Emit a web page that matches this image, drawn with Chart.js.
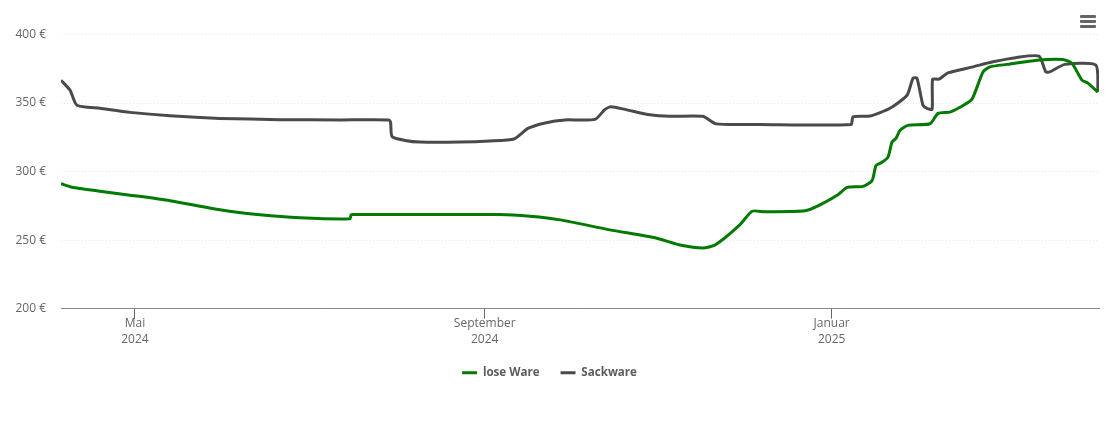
<!DOCTYPE html>
<html lang="de">
<head>
<meta charset="utf-8">
<title>Preisentwicklung</title>
<script src="https://cdn.jsdelivr.net/npm/chart.js@4"></script>
<style>
    html, body { margin: 0; padding: 0; background: #fff; }
    #wrap { position: relative; width: 1110px; height: 422px; }
    #menu { position: absolute; left: 1080px; top: 15px; width: 16px; }
    #menu span { display: block; height: 3px; margin-bottom: 2px; background: #666; border-radius: 1px; }
</style>
</head>
<body>
<div id="wrap">
    <canvas id="chart" width="1110" height="422"></canvas>
    <div id="menu"><span></span><span></span><span></span></div>
</div>
<script>
'use strict';

// x values are days counted from 5 April 2024
const looseDays = [0, 3.9, 13.7, 24.3, 38.3, 55.9, 70, 84, 101.6, 102, 102.7, 154.4, 164.9, 175.5, 193, 208.9, 217.7, 225.7, 230, 238.7, 243, 247.5, 261.6, 266.9, 273.2, 276.4, 282, 285.2, 286.6, 288.7, 290.8, 292.2, 293.6, 295, 297.8, 305.6, 308.4, 312.6, 316.1, 320.3, 324.2, 326.7, 332.6, 343.2, 352.3, 355.5, 359, 361.1, 364.6];
const loosePrices = [291.2, 288.6, 285.7, 282.8, 278.8, 272.2, 268.5, 266.3, 265.6, 268.5, 268.7, 268.7, 267.4, 264.8, 257.5, 251.7, 246.5, 244.3, 246.5, 261.2, 271.1, 270.7, 271.4, 275.8, 283.1, 288.5, 289.2, 293.4, 304.4, 306.8, 310.5, 321.5, 324.2, 330, 333.7, 334.9, 342.5, 343.4, 346.9, 352.7, 372.7, 376.4, 378.2, 381.3, 381.8, 379.1, 366.7, 364.5, 357.9];

const sackDays = [0, 3.2, 5.6, 13.7, 24.3, 38.3, 55.9, 77, 98.1, 115.3, 115.9, 116.4, 121, 126.2, 140.3, 150.8, 159.3, 164.2, 170.2, 177.2, 187.8, 191.3, 193.4, 198.3, 207.1, 214.1, 225.7, 230.3, 245.8, 277.8, 278.5, 284.5, 291.5, 297.5, 299.6, 301, 303.1, 304.5, 306.3, 306.5, 308.7, 311.9, 320.7, 327.7, 336.2, 343.9, 346.3, 347.7, 353, 363.9, 364.6];
const sackPrices = [366.7, 359.3, 348.4, 346.2, 343.2, 340.7, 338.8, 337.9, 337.7, 337.7, 335.9, 325.6, 322.7, 321.5, 321.5, 322.3, 323.8, 331.5, 335.5, 337.7, 338.1, 345.4, 347.3, 345.4, 341.4, 340.3, 340.3, 334.8, 334.4, 334.4, 339.9, 340.5, 346.2, 355.7, 368.1, 368.1, 348.4, 346.2, 345.4, 367.4, 367.4, 372, 376.4, 380.1, 383.3, 384.2, 372.7, 372.7, 378.2, 377.7, 358.1];

const tickDays = [26, 149, 271];
const tickLabels = [['Mai', '2024'], ['September', '2024'], ['Januar', '2025']];

function toPoints(days, prices) {
    return days.map((day, i) => ({ x: day, y: prices[i] }));
}

const FONT = "'Open Sans', 'Noto Sans', sans-serif";

new Chart(document.getElementById('chart'), {
    type: 'line',
    data: {
        datasets: [
            {
                label: 'lose Ware',
                data: toPoints(looseDays, loosePrices),
                borderColor: '#007a00',
                backgroundColor: '#007a00',
                borderWidth: 3
            },
            {
                label: 'Sackware',
                data: toPoints(sackDays, sackPrices),
                borderColor: '#4a4a4a',
                backgroundColor: '#4a4a4a',
                borderWidth: 3
            }
        ]
    },
    options: {
        responsive: false,
        animation: false,
        layout: { padding: { top: 34.5, right: 11, bottom: 33.5, left: 0 } },
        elements: {
            point: { radius: 0 },
            line: { tension: 0.2 }
        },
        plugins: {
            tooltip: { enabled: false },
            legend: {
                position: 'bottom',
                labels: {
                    usePointStyle: true,
                    pointStyle: 'line',
                    pointStyleWidth: 15,
                    boxHeight: 3,
                    padding: 21,
                    color: '#5c5c5c',
                    font: { family: FONT, size: 11.6, weight: 'bold' }
                }
            }
        },
        scales: {
            x: {
                type: 'linear',
                min: 0,
                max: 365,
                afterBuildTicks: (axis) => {
                    axis.ticks = tickDays.map(day => ({ value: day }));
                },
                afterFit: (axis) => { axis.height += 1; },
                grid: { drawOnChartArea: false, drawTicks: true, tickLength: 10, color: '#666' },
                border: { color: '#888', width: 1 },
                ticks: {
                    autoSkip: false,
                    maxRotation: 0,
                    padding: -2.5,
                    color: '#666',
                    font: { family: FONT, size: 12, lineHeight: 1.3 },
                    callback: (value) => tickLabels[tickDays.indexOf(value)]
                }
            },
            y: {
                min: 200,
                max: 400,
                afterFit: (axis) => { axis.width = 61; },
                grid: { drawTicks: false, color: '#e8e8e8' },
                border: { display: false, dash: [1, 2] },
                ticks: {
                    stepSize: 50,
                    padding: 15,
                    color: '#666',
                    font: { family: FONT, size: 12 },
                    callback: (value) => `${value} €`
                }
            }
        }
    }
});
</script>
</body>
</html>
